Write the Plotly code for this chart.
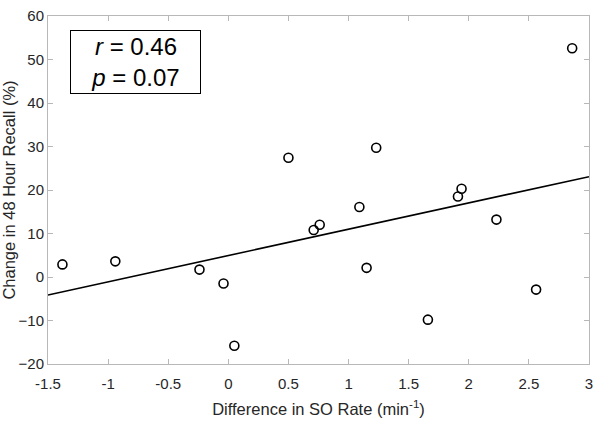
import numpy as np
import plotly.graph_objects as go

# Difference in SO rate (min^-1) vs change in 48 hour recall (%)
so_rate_diff = [-1.38, -0.94, -0.24, -0.04, 0.05, 0.50, 0.71, 0.76, 1.09, 1.15,
                1.23, 1.66, 1.91, 1.94, 2.23, 2.56, 2.86]
recall_change = [2.9, 3.6, 1.7, -1.5, -15.8, 27.4, 10.8, 12.0, 16.1, 2.1,
                 29.7, -9.8, 18.5, 20.3, 13.2, -2.9, 52.6]

x_ticks = [-1.5, -1, -0.5, 0, 0.5, 1, 1.5, 2, 2.5, 3]
x_labels = ['-1.5', '-1', '-0.5', '0', '0.5', '1', '1.5', '2', '2.5', '3']
y_ticks = [-20, -10, 0, 10, 20, 30, 40, 50, 60]

# least squares line drawn across the x range
slope, intercept = np.polyfit(so_rate_diff, recall_change, 1)
fit_x = [-1.5, 3.0]
fit_y = [slope * v + intercept for v in fit_x]

fig = go.Figure()

fig.add_trace(go.Scatter(
    x=fit_x, y=fit_y, mode='lines',
    line=dict(color='black', width=1.6), hoverinfo='skip'))

fig.add_trace(go.Scatter(
    x=so_rate_diff, y=recall_change, mode='markers',
    marker=dict(symbol='circle-open', size=9, color='black', line=dict(width=1.6))))

fam = 'Liberation Sans, Arial, sans-serif'
tick_font = dict(family=fam, size=15, color='#262626')
title_font = dict(family=fam, size=16.5, color='#262626')
axis_style = dict(
    showgrid=False, zeroline=False, showline=True, linecolor='#b8b8b8', linewidth=1,
    mirror='ticks', ticks='inside', ticklen=5, tickcolor='#b8b8b8', tickwidth=1,
    tickfont=tick_font, ticklabeloverflow='allow')

fig.update_xaxes(range=[-1.5, 3], tickvals=x_ticks, ticktext=x_labels, ticklabelstandoff=6,
                 title=dict(text='Difference in SO Rate (min<sup>-1</sup>)', font=title_font, standoff=12),
                 **axis_style)
fig.update_yaxes(range=[-20, 60], tickvals=y_ticks,
                 title=dict(text='Change in 48 Hour Recall (%)', font=title_font, standoff=0),
                 **axis_style)

# r / p annotation box
fig.add_annotation(
    xref='paper', yref='paper', x=0.04, y=0.96, xanchor='left', yanchor='top',
    text='<i>r</i> = 0.46<br><i>p</i> = 0.07', showarrow=False, align='center',
    font=dict(family=fam, size=24, color='black'),
    bordercolor='black', borderwidth=1, borderpad=2, bgcolor='white', width=125)

fig.update_layout(
    width=600, height=423, showlegend=False,
    plot_bgcolor='white', paper_bgcolor='white',
    margin=dict(l=48, r=7, t=7, b=54))

# drop the browser's default body margin so the figure sits at the window corner
fig.write_html('out.html', config={'displayModeBar': False},
               post_script="document.body.style.margin='0';")
